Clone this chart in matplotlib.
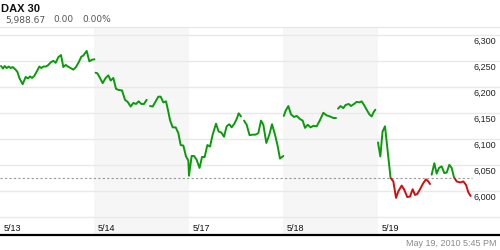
import numpy as np
import matplotlib
matplotlib.use('Agg')
import matplotlib.pyplot as plt
from matplotlib.patches import Rectangle

plt.rcParams['font.family'] = ['Liberation Sans', 'DejaVu Sans']

# ----------- data ------------------------------------------------------------
# time in trading hours since open of 5/13 (8.5 h per session), nan = gap
days = ['5/13', '5/14', '5/17', '5/18', '5/19']
day_len = 8.5
shaded_days = [1, 3]
prev_close = 6026.5
last_price = '5,988.67'
change = '0.00'
change_pct = '0.00%'
yticks = [6000, 6050, 6100, 6150, 6200, 6250, 6300]
ygrid = [5950, 6000, 6050, 6100, 6150, 6200, 6250, 6300]

t = [0.09, 0.27, 0.42, 0.60, 0.78, 0.96, 1.14, 1.35, 1.56, 1.74, 2.04, 2.31,
     2.52, 2.70, 2.88, 3.09, 3.30, 3.54, 3.72, 3.90, 4.14, 4.35, 4.56, 4.80,
     5.01, 5.25, 5.49, 5.70, 5.91, 6.12, 6.36, 6.60, 6.84, 7.08, 7.32, 7.50,
     7.80, 8.04, 8.28, 8.50, np.nan,
     8.60, 8.76, 9.00, 9.24, 9.51, 9.75, 9.96, 10.20, 10.44, 10.68, 10.98,
     11.25, 11.49, 11.76, 12.00, 12.24, 12.48, 12.72, 12.96, 13.20, np.nan,
     13.50, 13.74, 14.01, 14.25, 14.46, 14.70, 14.94, 15.15, 15.30, 15.54,
     15.81, 16.05, 16.26, 16.50, 16.74, 16.95, 17.01, 17.25, 17.46, 17.69,
     17.96, 18.18, 18.42, 18.66, 18.90, 19.14, 19.44, 19.68, 19.92, 20.16,
     20.40, 20.64, 20.85, 21.09, 21.30, 21.48, 21.69, np.nan,
     21.96, 22.20, 22.46, 22.74, 23.01, 23.25, 23.49, 23.70, 23.97, 24.24,
     24.48, 24.75, 24.98, 25.20, 25.50, np.nan,
     25.54, 25.71, 25.95, 26.19, 26.46, 26.70, 27.00, 27.24, 27.45, 27.69,
     27.96, 28.20, 28.50, 28.80, 29.10, 29.40, 29.70, 30.00, 30.24, np.nan,
     30.42, 30.65, 30.90, 31.10, 31.38, 31.59, 31.86, 32.10, 32.34, 32.55,
     32.76, 33.00, 33.24, 33.45, 33.62, 33.78, np.nan,
     34.02, 34.23, 34.43, 34.65, 35.15, 35.40, 35.64, 35.85, 36.15, 36.36,
     36.66, 36.90, 37.14, 37.35, 37.56, 37.80, 38.10, 38.34, 38.55, 38.70,
     np.nan,
     38.85, 39.09, 39.30, 39.51, 39.75, 39.99, 40.20, 40.44, 40.65, 40.86,
     41.10, 41.40, 41.70, 41.94, 42.15, 42.36]

price = [6241, 6236, 6241, 6237, 6240, 6237, 6239, 6235, 6230, 6218, 6206, 6220,
         6217, 6221, 6218, 6222, 6230, 6240, 6237, 6240, 6240, 6243, 6248, 6251,
         6247, 6258, 6262, 6239, 6243, 6240, 6237, 6234, 6239, 6248, 6259, 6261,
         6270, 6250, 6253, 6254, np.nan,
         6228, 6227, 6218, 6208, 6218, 6223, 6213, 6218, 6197, 6195, 6194,
         6176, 6172, 6163, 6170, 6168, 6173, 6168, 6168, 6176, np.nan,
         6164, 6163, 6173, 6182, 6182, 6171, 6173, 6153, 6137, 6123,
         6123, 6112, 6089, 6088, 6067, 6059, 6030, 6068, 6068, 6061,
         6045, 6066, 6066, 6089, 6086, 6109, 6130, 6115, 6113, 6105,
         6125, 6129, 6123, 6130, 6139, 6150, 6144, np.nan,
         6136, 6128, 6108, 6109, 6109, 6112, 6136, 6128, 6093, 6109,
         6129, 6109, 6088, 6063, 6068, np.nan,
         6145, 6155, 6164, 6148, 6143, 6145, 6139, 6136, 6122, 6128,
         6123, 6126, 6125, 6137, 6151, 6146, 6144, 6141, 6141, np.nan,
         6159, 6164, 6160, 6166, 6168, 6164, 6168, 6172, 6171, 6173,
         6166, 6157, 6148, 6144, 6152, 6157, np.nan,
         6094, 6067, 6115, 6125, 6026, 6019, 5987.5, 6000, 6011, 6004,
         5989, 5990, 6004, 5993, 5995, 6004, 6016, 6023, 6019, 6014,
         np.nan,
         6032, 6054, 6034, 6045, 6048, 6035, 6036, 6051, 6045, 6027,
         6019, 6017, 6019, 6012.5, 5998, 5991]

t = np.array(t)
price = np.array(price)

# ----------- figure ----------------------------------------------------------
fig = plt.figure(figsize=(5, 2.5), dpi=100)
ax = fig.add_axes([0, 15 / 250, 1, 208 / 250])
n_days = len(days)
ax.set_xlim(0, 45.0)
ax.set_ylim(5916, 6316)

# shaded sessions
for d in shaded_days:
    ax.axvspan(d * day_len, (d + 1) * day_len, color='#f6f6f6', lw=0, zorder=0)

# horizontal grid
for g in ygrid:
    ax.axhline(g, color='#e9e9e9', lw=1, zorder=1)

# previous close
ax.hlines(prev_close, 0, n_days * day_len, colors='#999999', lw=0.8,
          linestyles=(0, (2, 2)), zorder=2)

# price line: green above previous close, red below
up = Rectangle((-10, prev_close), 100, 1000, transform=ax.transData)
dn = Rectangle((-10, prev_close - 1000), 100, 1000, transform=ax.transData)
l1, = ax.plot(t, price, color='#0b9a0b', lw=1.4, zorder=3,
              solid_joinstyle='round', solid_capstyle='round')
l1.set_clip_path(up)
l2, = ax.plot(t, price, color='#cc1010', lw=1.4, zorder=3,
              solid_joinstyle='round', solid_capstyle='round')
l2.set_clip_path(dn)

# y labels on the right, below each gridline
for v in yticks:
    ax.annotate(f'{v:,}', xy=(1, v), xycoords=('axes fraction', 'data'),
                xytext=(-2.5, -4.5), textcoords='offset points',
                ha='right', va='center', fontsize=6.5, color='#222222')

# day labels
for i, d in enumerate(days):
    ax.annotate(d, xy=(i * day_len, 0), xycoords=('data', 'axes fraction'),
                xytext=(2.5, 5), textcoords='offset points',
                ha='left', va='center', fontsize=6.5, color='#111111')

ax.set_xticks([])
ax.set_yticks([])
for s in ['left', 'right']:
    ax.spines[s].set_visible(False)
ax.spines['top'].set_color('#e6e6e6')
ax.spines['top'].set_linewidth(0.8)
ax.spines['bottom'].set_color('black')
ax.spines['bottom'].set_linewidth(1.6)

# header
fig.text(1 / 500, 1 - 8.5 / 250, 'DAX 30', fontsize=8, fontweight='bold',
         color='#111111', ha='left', va='center')
hdr = dict(fontsize=6.5, color='#555555', ha='left', va='center',
           family='DejaVu Sans')
fig.text(5 / 500, 1 - 20 / 250, last_price, **hdr)
fig.text(53 / 500, 1 - 20 / 250, change, **hdr)
fig.text(82 / 500, 1 - 20 / 250, change_pct, **hdr)

# footer timestamp
fig.text(497 / 500, 1 - 244 / 250, 'May 19, 2010 5:45 PM', fontsize=6.5,
         color='#8a8a8a', ha='right', va='center')

fig.savefig('out.png', dpi=100)
